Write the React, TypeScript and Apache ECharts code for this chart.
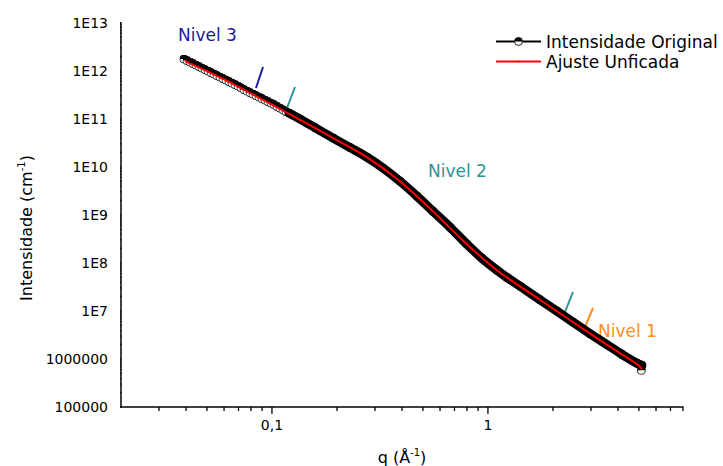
import React, { useEffect, useRef } from 'react';
import * as echarts from 'echarts';

// Measured data: "Intensidade Original" (q in Å^-1, intensity in cm^-1)
const qOrig = [
  0.03914, 0.04041, 0.04173, 0.04308, 0.04448, 0.04593, 0.04742, 0.04896, 0.05055, 0.0522,
  0.05389, 0.05564, 0.05745, 0.05932, 0.06125, 0.06324, 0.06529, 0.06741, 0.0696, 0.07187,
  0.0742, 0.07661, 0.0791, 0.08167, 0.08433, 0.08707, 0.0899, 0.09282, 0.09583, 0.09894,
  0.10216, 0.10547, 0.1089, 0.11244, 0.11609, 0.11987,
  0.135, 0.158, 0.192, 0.230, 0.275, 0.327, 0.391, 0.469, 0.556, 0.667,
  0.799, 0.938, 1.10, 1.22, 1.41, 1.74, 2.09, 2.48, 2.97, 3.56,
  4.17, 4.90, 5.16, 5.13,
];
const iOrig = [
  1.753e12, 1.632e12, 1.519e12, 1.413e12, 1.315e12, 1.223e12, 1.138e12, 1.059e12, 9.86e11, 9.17e11,
  8.54e11, 7.94e11, 7.39e11, 6.88e11, 6.40e11, 5.96e11, 5.54e11, 5.16e11, 4.80e11, 4.42e11,
  4.06e11, 3.78e11, 3.51e11, 3.27e11, 3.04e11, 2.83e11, 2.64e11, 2.45e11, 2.28e11, 2.12e11,
  1.98e11, 1.81e11, 1.67e11, 1.54e11, 1.41e11, 1.32e11,
  9.86e10, 6.56e10, 3.96e10, 2.51e10, 1.59e10, 9.4e9, 5.03e9, 2.45e9, 1.19e9, 5.54e8,
  2.45e8, 1.25e8, 7.05e7, 5.03e7, 3.27e7, 1.71e7, 9.86e6, 5.82e6, 3.35e6, 1.98e6,
  1.25e6, 8.13e5, 7.40e5, 5.82e5,
];

// Fit: "Ajuste Unficada"
const qFit = [0.0396, 0.0575, 0.0852, 0.135, 0.192, 0.275, 0.391, 0.556, 0.799, 1.10, 1.74, 2.48, 3.56, 4.90, 5.16];
const iFit = [1.59e12, 7.3e11, 2.9e11, 9.5e10, 3.96e10, 1.59e10, 5.0e9, 1.19e9, 2.45e8, 7.05e7, 1.71e7, 5.8e6, 1.96e6, 7.8e5, 6.2e5];

// Axis ranges and ticks
const xMin = 0.02;
const xMax = 8;
const yMin = 1e5;
const yMax = 1e13;
const xMajorTicks = [0.1, 1];
const xMinorTicks = [0.03, 0.04, 0.05, 0.06, 0.07, 0.08, 0.09, 0.2, 0.3, 0.4, 0.5, 0.6, 0.7, 0.8, 0.9, 2, 3, 4, 5, 6, 7, 8];
const yDecades = [1e5, 1e6, 1e7, 1e8, 1e9, 1e10, 1e11, 1e12, 1e13];
const minorMultipliers = [2, 3, 4, 5, 6, 7, 8, 9];

const seriesNames = ['Intensidade Original', 'Ajuste Unficada'];
const FONT = '"DejaVu Sans", Arial, sans-serif';

const halfSvg =
  '<svg xmlns="http://www.w3.org/2000/svg" width="20" height="20" viewBox="0 0 20 20">' +
  '<circle cx="10" cy="10" r="9" fill="#ffffff" stroke="#000000" stroke-width="2"/>' +
  '<path d="M1,10 A9,9 0 0 1 19,10 Z" fill="#000000"/></svg>';
const dotSvg =
  '<svg xmlns="http://www.w3.org/2000/svg" width="20" height="20" viewBox="0 0 20 20">' +
  '<rect x="8" y="8" width="4" height="4" fill="#ff0000"/></svg>';
const halfSymbol = 'image://data:image/svg+xml;charset=utf-8,' + encodeURIComponent(halfSvg);
const dotSymbol = 'image://data:image/svg+xml;charset=utf-8,' + encodeURIComponent(dotSvg);

function fmtX(v: number): string {
  const e = Math.log10(v);
  const r = Math.round(e);
  if (Math.abs(e - r) > 1e-6) return '';
  if (r === -1) return '0,1';
  if (r === 0) return '1';
  return '';
}
function fmtY(v: number): string {
  const e = Math.log10(v);
  const r = Math.round(e);
  if (Math.abs(e - r) > 1e-6) return '';
  if (r >= 7) return '1E' + r;
  return String(Math.pow(10, r));
}

export default function App() {
  const ref = useRef<HTMLDivElement>(null);
  useEffect(() => {
    const chart = echarts.init(ref.current!, null, { renderer: 'svg' });

    const origData = qOrig.map((q, i) => [q, iOrig[i]]);
    const bandData = origData.slice(35, 59);
    const fitData = qFit.map((q, i) => [q, iFit[i]]);

    // Tick marks drawn as short unclipped segments through the log scales.
    // Lengths are converted from pixels to decades (x: ~216 px/decade, y: ~48 px/decade).
    const xPxPerDecade = 562 / Math.log10(xMax / xMin);
    const yPxPerDecade = 384.3 / Math.log10(yMax / yMin);
    const tickStyle = { color: '#000', width: 1.3 };
    const tickSeries: any[] = [];
    const addTick = (a: number[], b: number[]) =>
      tickSeries.push({
        type: 'line',
        data: [a, b],
        symbol: 'none',
        clip: false,
        silent: true,
        z: 6,
        lineStyle: tickStyle,
      });
    const xTick = (q: number, len: number) => addTick([q, yMin], [q, yMin / Math.pow(10, len / yPxPerDecade)]);
    const yTick = (v: number, len: number) => addTick([xMin, v], [xMin / Math.pow(10, len / xPxPerDecade), v]);
    xMajorTicks.forEach((q) => xTick(q, 7));
    xMinorTicks.forEach((q) => xTick(q, 4));
    yDecades.forEach((d, k) => {
      yTick(d, 8);
      if (k < yDecades.length - 1) minorMultipliers.forEach((m) => yTick(d * m, 4));
    });

    const option: any = {
      animation: false,
      backgroundColor: '#fff',
      grid: { left: 121, right: 40, top: 22.7, bottom: 59 },
      legend: {
        data: seriesNames,
        orient: 'vertical',
        left: 495,
        top: 33,
        padding: 0,
        itemWidth: 45,
        itemHeight: 11,
        itemGap: 3,
        textStyle: { fontFamily: FONT, fontSize: 17, color: '#000' },
        selectedMode: false,
      },
      xAxis: {
        type: 'log',
        logBase: 10,
        min: xMin,
        max: xMax,
        axisLine: { show: true, lineStyle: { color: '#000', width: 1.5 } },
        axisTick: { show: false },
        minorTick: { show: false },
        splitLine: { show: false },
        axisLabel: { formatter: fmtX, fontFamily: FONT, fontSize: 14, color: '#000', margin: 11, showMinLabel: false, showMaxLabel: false },
      },
      yAxis: {
        type: 'log',
        logBase: 10,
        min: yMin,
        max: yMax,
        axisLine: { show: true, lineStyle: { color: '#000', width: 1.5 } },
        axisTick: { show: false },
        minorTick: { show: false },
        splitLine: { show: false },
        axisLabel: { formatter: fmtY, fontFamily: FONT, fontSize: 14, color: '#000', margin: 13 },
      },
      series: [
        ...tickSeries,
        {
          name: seriesNames[0],
          type: 'line',
          data: origData,
          symbol: halfSymbol,
          symbolSize: 9,
          showSymbol: true,
          itemStyle: { color: '#000' },
          lineStyle: { color: '#000', width: 1.5 },
          z: 2,
        },
        {
          name: 'band',
          type: 'line',
          data: bandData,
          symbol: 'none',
          smooth: 0.3,
          lineStyle: { color: '#000', width: 9, cap: 'round', join: 'round' },
          z: 3,
          silent: true,
        },
        {
          name: seriesNames[1],
          type: 'line',
          data: fitData,
          symbol: dotSymbol,
          showSymbol: false,
          smooth: 0.3,
          itemStyle: { color: '#ff0000' },
          lineStyle: { color: '#ff0000', width: 2 },
          z: 4,
        },
      ],
      graphic: [
        { type: 'text', x: 178, y: 35, style: { text: 'Nivel 3', font: '17px ' + FONT, fill: '#1a1a9e', align: 'left', verticalAlign: 'middle' } },
        { type: 'text', x: 428, y: 171, style: { text: 'Nivel 2', font: '17px ' + FONT, fill: '#2a9494', align: 'left', verticalAlign: 'middle' } },
        { type: 'text', x: 598, y: 331, style: { text: 'Nivel 1', font: '17px ' + FONT, fill: '#ff8c1f', align: 'left', verticalAlign: 'middle' } },
        { type: 'line', shape: { x1: 256, y1: 88, x2: 263, y2: 67 }, style: { stroke: '#1a1a9e', lineWidth: 2 } },
        { type: 'line', shape: { x1: 287, y1: 108, x2: 295, y2: 87 }, style: { stroke: '#2a9494', lineWidth: 2 } },
        { type: 'line', shape: { x1: 565, y1: 312, x2: 573, y2: 292 }, style: { stroke: '#2a9494', lineWidth: 2 } },
        { type: 'line', shape: { x1: 585, y1: 327, x2: 593, y2: 308 }, style: { stroke: '#ff8c1f', lineWidth: 2 } },
        {
          type: 'text', x: 26, y: 228, rotation: Math.PI / 2,
          style: {
            text: '{a|Intensidade (cm}{s|-1}{a|)}',
            align: 'center', verticalAlign: 'middle',
            rich: {
              a: { fontFamily: FONT, fontSize: 16, fill: '#000', color: '#000', lineHeight: 20 },
              s: { fontFamily: FONT, fontSize: 10, fill: '#000', color: '#000', lineHeight: 12, verticalAlign: 'top' },
            },
          },
        },
        {
          type: 'text', x: 402, y: 457,
          style: {
            text: '{a|q (Å}{s|-1}{a|)}',
            align: 'center', verticalAlign: 'middle',
            rich: {
              a: { fontFamily: FONT, fontSize: 16, fill: '#000', color: '#000', lineHeight: 20 },
              s: { fontFamily: FONT, fontSize: 10, fill: '#000', color: '#000', lineHeight: 12, verticalAlign: 'top' },
            },
          },
        },
      ],
    };
    chart.setOption(option);
    return () => chart.dispose();
  }, []);
  return <div ref={ref} style={{ position: 'fixed', left: 0, top: 0, width: 723, height: 466 }} />;
}
